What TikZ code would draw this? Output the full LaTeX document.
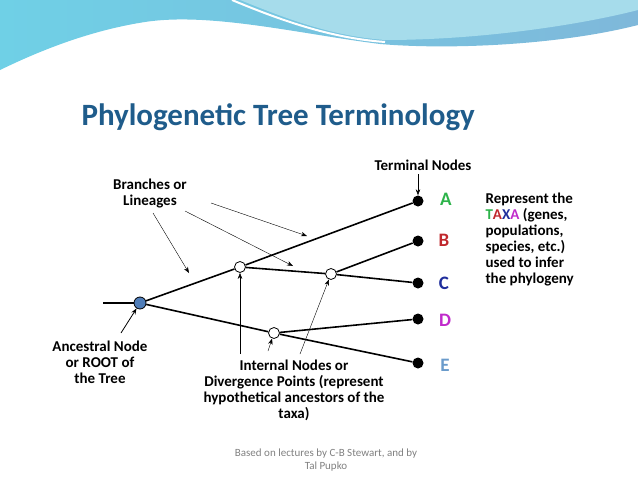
\documentclass[tikz,border=0pt]{standalone}
\usepackage{fontspec}
\setmainfont{Carlito}
\usetikzlibrary{arrows.meta}
\definecolor{titleblue}{HTML}{1F5C8B}
\definecolor{rootblue}{HTML}{4F7DB8}
\definecolor{bandL}{HTML}{6FD0E6}
\definecolor{bandR}{HTML}{7FB8DA}
\definecolor{bandpale}{HTML}{A6DCEB}
\definecolor{tA}{HTML}{2DB34A}
\definecolor{tB}{HTML}{C0282D}
\definecolor{tC}{HTML}{1F2E9C}
\definecolor{tD}{HTML}{C02ACB}
\definecolor{tE}{HTML}{6A9BCB}
\tikzset{
  leaf/.style={circle, fill=black, inner sep=0pt, minimum size=11pt},
  inner/.style={circle, draw=black, fill=white, thick, inner sep=0pt, minimum size=11pt},
  rootnode/.style={circle, draw=black, fill=rootblue, thick, inner sep=0pt, minimum size=12pt},
  lbl/.style={font=\bfseries\fontsize{15}{16}\selectfont, align=center},
  taxon/.style={font=\bfseries\fontsize{19}{19}\selectfont},
  branch/.style={line width=1.6pt},
  pointer/.style={-{Stealth[length=6pt]}, thin}
}
\begin{document}
\begin{tikzpicture}[x=1pt,y=-1pt]
    \useasboundingbox (0,0) rectangle (638,479);
    % banner
    \shade[left color=bandL, right color=bandR]
      (0,0) -- (638,0) -- (638,25) .. controls (560,45) and (450,50) .. (380,44)
      .. controls (300,34) and (210,12) .. (145,22) .. controls (80,32) and (25,58) .. (0,70) -- cycle;
    \fill[bandpale] (240,0) .. controls (285,18) and (330,36) .. (385,40)
      .. controls (480,40) and (580,25) .. (638,10) -- (638,0) -- cycle;
    \draw[white, line width=2pt] (232,0) .. controls (280,20) and (330,38) .. (385,42);
    % title
    \node[anchor=west, text=titleblue, font=\bfseries\fontsize{31}{33}\selectfont] (title) at (78,117) {Phylogenetic Tree Terminology};
    % tree
    \coordinate (stub) at (103,303);
    \node[rootnode] (root) at (140,303) {};
    \node[inner] (n1) at (240,267) {};
    \node[inner] (n2) at (331,274) {};
    \node[inner] (n3) at (274,333) {};
    \node[leaf] (a) at (418,201) {};
    \node[leaf] (b) at (418,241) {};
    \node[leaf] (c) at (418,283) {};
    \node[leaf] (d) at (418,319) {};
    \node[leaf] (e) at (418,363) {};
    \draw[branch] (stub) -- (root);
    \draw[branch] (root) -- (n1);
    \draw[branch] (root) -- (n3);
    \draw[branch] (n1) -- (a);
    \draw[branch] (n1) -- (n2);
    \draw[branch] (n2) -- (b);
    \draw[branch] (n2) -- (c);
    \draw[branch] (n3) -- (d);
    \draw[branch] (n3) -- (e);
    \node[taxon, text=tA] (ta) at (446,199) {A};
    \node[taxon, text=tB] (tb) at (444,240) {B};
    \node[taxon, text=tC] (tc) at (444,283) {C};
    \node[taxon, text=tD] (td) at (445,320) {D};
    \node[taxon, text=tE] (te) at (445,365) {E};
    % labels
    \node[lbl] (term) at (423,165) {Terminal Nodes};
    \node[lbl] (branches) at (150,194) {Branches or\\Lineages};
    \node[lbl, anchor=north west, align=left] (taxa) at (482,189)
      {Represent the\\{\color{tA}T}{\color{tB}A}{\color{tC}X}{\color{tD}A} (genes,\\populations,\\species, etc.)\\used to infer\\the phylogeny};
    \node[lbl] (ancestral) at (100,362) {Ancestral Node\\or ROOT of\\the Tree};
    \node[lbl] (internal) at (294,390) {Internal Nodes or\\Divergence Points (represent\\hypothetical ancestors of the\\taxa)};
    \node[font=\fontsize{11}{12.5}\selectfont, text=gray, align=center] (credit) at (326,460)
      {Based on lectures by C-B Stewart, and by\\Tal Pupko};
    % pointers
    \coordinate (p1) at (189,273);
    \coordinate (p2) at (293,266);
    \coordinate (p3) at (307,236);
    \draw[pointer] (153,213) -- (p1);
    \draw[pointer] (185,211) -- (p2);
    \draw[pointer] (211,203) -- (p3);
    \draw[pointer] (418,174) -- (a);
    \draw[pointer, thick] (121,333) -- (root);
    \draw[pointer] (240,354) -- (n1);
    \draw[pointer] (300,354) -- (n2);
    \draw[pointer] (268,351) -- (n3);
\end{tikzpicture}
\end{document}
